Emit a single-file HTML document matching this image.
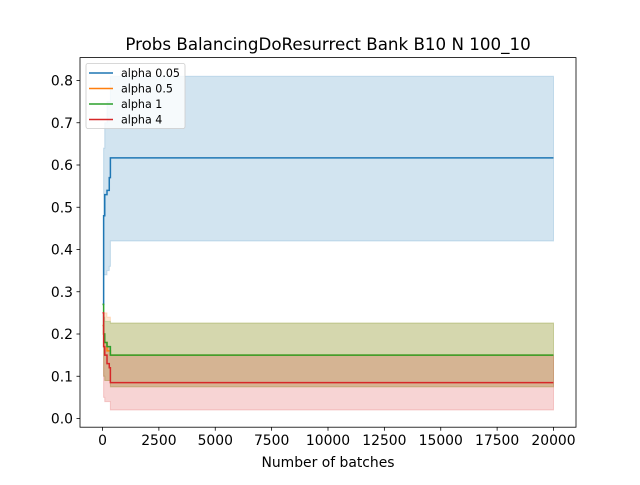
<!DOCTYPE html>
<html><head><meta charset="utf-8"><style>
body{margin:0;background:#fff;font-family:"Liberation Sans","DejaVu Sans",sans-serif}
svg text{font-family:"DejaVu Sans","Liberation Sans",sans-serif;fill:#000}
</style></head><body>
<svg id="c" width="640" height="480" xmlns="http://www.w3.org/2000/svg"></svg>
<script>
const xs = [0, 50, 100, 200, 300, 350, 20000];
const blueMean = [0.27, 0.48, 0.53, 0.54, 0.57, 0.617, 0.617];
const blueLo = [0.27, 0.34, 0.34, 0.35, 0.36, 0.42, 0.42];
const blueHi = [0.27, 0.64, 0.70, 0.75, 0.75, 0.81, 0.81];
const orangeMean = [0.22, 0.2, 0.18, 0.16, 0.16, 0.15, 0.15];
const orangeLo = [0.22, 0.1, 0.09, 0.09, 0.09, 0.075, 0.075];
const orangeHi = [0.22, 0.25, 0.25, 0.24, 0.24, 0.226, 0.226];
const greenMean = [0.27, 0.2, 0.18, 0.17, 0.17, 0.15, 0.15];
const greenLo = [0.27, 0.1, 0.09, 0.09, 0.09, 0.075, 0.075];
const greenHi = [0.27, 0.24, 0.23, 0.23, 0.23, 0.226, 0.226];
const redMean = [0.25, 0.17, 0.15, 0.13, 0.12, 0.085, 0.085];
const redLo = [0.25, 0.05, 0.04, 0.04, 0.04, 0.02, 0.02];
const redHi = [0.25, 0.2, 0.18, 0.17, 0.16, 0.15, 0.15];
const yTicks = [0.0, 0.1, 0.2, 0.3, 0.4, 0.5, 0.6, 0.7, 0.8];
const xTicks = [0, 2500, 5000, 7500, 10000, 12500, 15000, 17500, 20000];

const svg = document.getElementById('c');
const NS = 'http://www.w3.org/2000/svg';
const L = 80, R = 576, T = 57.6, B = 427.2;
const X = v => 102.5 + v / 20000 * (553.5 - 102.5);
const Y = v => 418.5 - v / 0.8 * (418.5 - 80.5);
function mk(tag, attrs, parent) {
  const e = document.createElementNS(NS, tag);
  for (const k in attrs) e.setAttribute(k, attrs[k]);
  (parent || svg).appendChild(e);
  return e;
}
function stepPts(ys) {
  let p = [];
  for (let i = 0; i < xs.length; i++) {
    if (i > 0) p.push([X(xs[i]), Y(ys[i - 1])]);
    p.push([X(xs[i]), Y(ys[i])]);
  }
  return p;
}
const series = [
  {name: 'alpha 0.05', c: '#1f77b4', m: blueMean, lo: blueLo, hi: blueHi},
  {name: 'alpha 0.5', c: '#ff7f0e', m: orangeMean, lo: orangeLo, hi: orangeHi},
  {name: 'alpha 1', c: '#2ca02c', m: greenMean, lo: greenLo, hi: greenHi},
  {name: 'alpha 4', c: '#d62728', m: redMean, lo: redLo, hi: redHi}
];
series.forEach((s, i) => {
  const hi = stepPts(s.hi), lo = stepPts(s.lo).reverse();
  const band = mk('polygon', {points: hi.concat(lo).map(p => p.join(',')).join(' '), fill: s.c, 'fill-opacity': 0.2, stroke: s.c, 'stroke-opacity': 0.2});
  
  
});
series.forEach(s => {
  const l = mk('polyline', {points: stepPts(s.m).map(p => p.join(',')).join(' '), fill: 'none', stroke: s.c, 'stroke-width': 1.5});
  
  
});
const frame = mk('rect', {x: L, y: T, width: R - L, height: B - T, fill: 'none', stroke: '#000', 'stroke-width': 0.8});


yTicks.forEach(v => {
  mk('line', {x1: L - 3.5, x2: L, y1: Y(v), y2: Y(v), stroke: '#000', 'stroke-width': 0.8});
  const t = mk('text', {x: L - 7, y: Y(v) + 5, 'font-size': 13.9, 'text-anchor': 'end'});
  t.textContent = v.toFixed(1);
  
  
});
xTicks.forEach(v => {
  mk('line', {x1: X(v), x2: X(v), y1: B, y2: B + 3.5, stroke: '#000', 'stroke-width': 0.8});
  const t = mk('text', {x: X(v), y: B + 18, 'font-size': 13.9, 'text-anchor': 'middle'});
  t.textContent = v;
  
  
});
const xt = mk('text', {x: 328, y: 467, 'font-size': 13.9, 'text-anchor': 'middle'});
xt.textContent = 'Number of batches';


const title = mk('text', {x: 328, y: 50, 'font-size': 16.7, 'text-anchor': 'middle'});
title.textContent = 'Probs BalancingDoResurrect Bank B10 N 100_10';


const lg = mk('g', {});


mk('rect', {x: 86, y: 63.5, width: 99, height: 65, rx: 2, fill: '#fff', 'fill-opacity': 0.8, stroke: '#ccc', 'stroke-width': 0.8}, lg);
series.forEach((s, i) => {
  const y = 73 + i * 15.5;
  mk('line', {x1: 89, x2: 113, y1: y, y2: y, stroke: s.c, 'stroke-width': 1.5}, lg);
  const t = mk('text', {x: 121, y: y + 4, 'font-size': 11.1}, lg);
  t.textContent = s.name;
  
  
});
</script>
</body></html>
